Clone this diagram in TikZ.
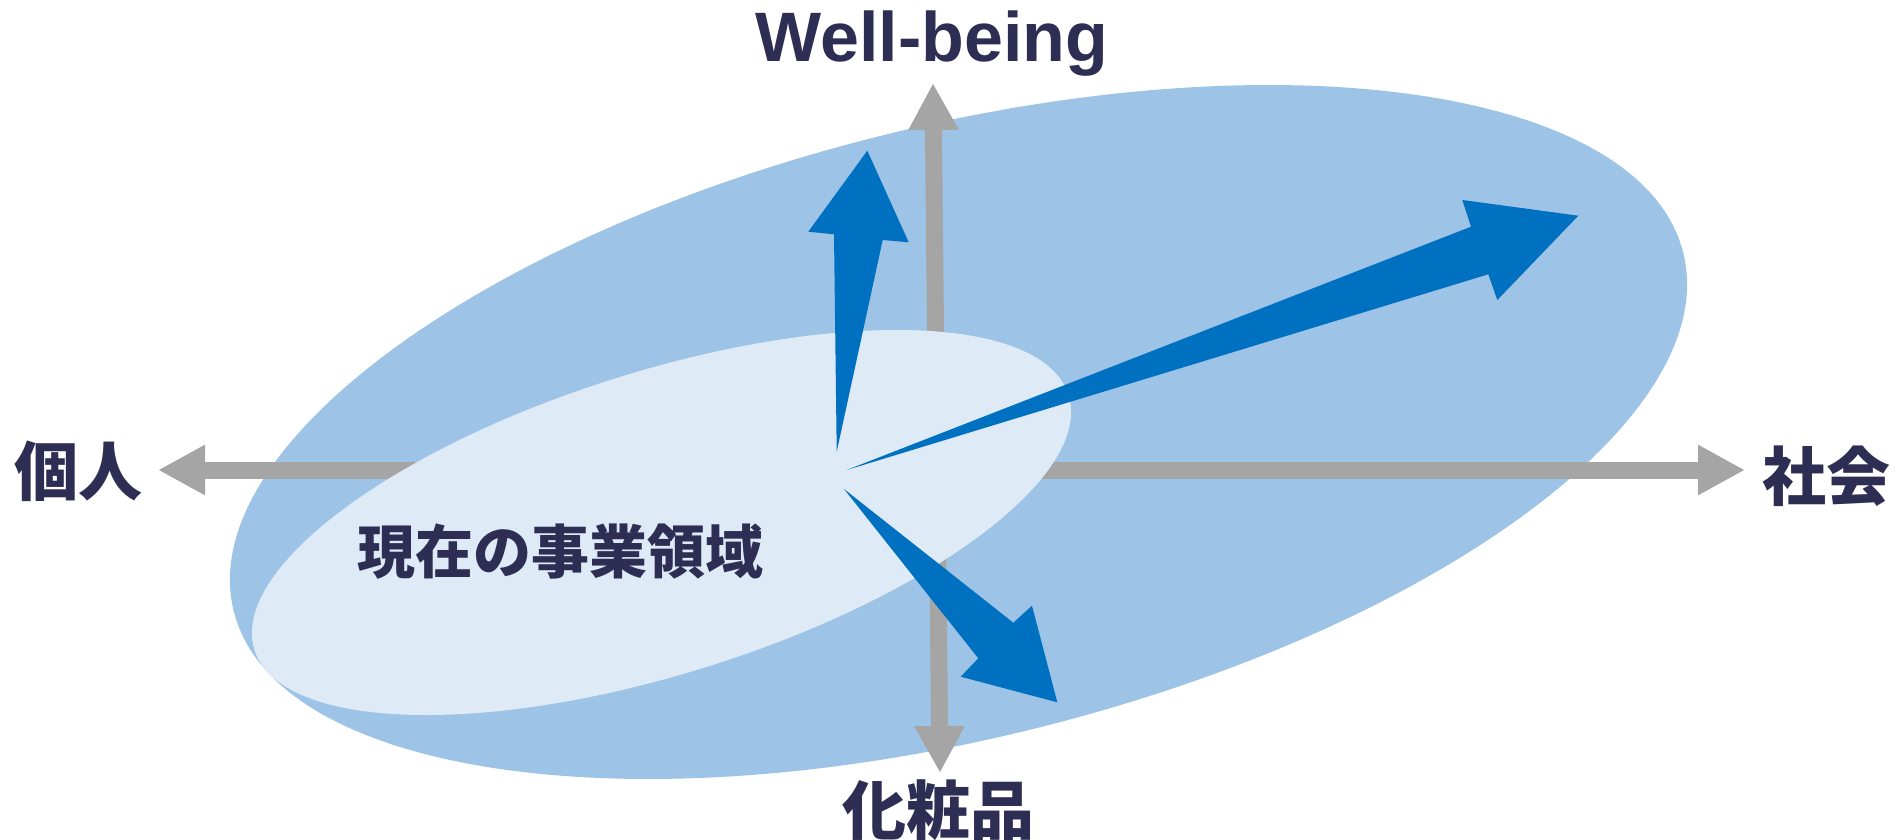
\documentclass[tikz,border=0pt]{standalone}
\usepackage{fontspec}
\setmainfont{Liberation Sans}
\newfontfamily\jpfont{Noto Sans CJK JP}
\usetikzlibrary{arrows.meta}

\definecolor{outerblue}{HTML}{9DC3E6}
\definecolor{innerblue}{HTML}{DEEBF7}
\definecolor{axisgray}{HTML}{A5A5A5}
\definecolor{growblue}{HTML}{0070C0}
\definecolor{labelnavy}{HTML}{2E2E54}

\tikzset{
  axis/.style={line width=17pt, draw=axisgray,
    {Triangle[width=47pt,length=47pt]}-{Triangle[width=47pt,length=47pt]}},
  growth/.style={fill=growblue},
  axislabel/.style={text=labelnavy, inner sep=0pt,
    font=\jpfont\bfseries\fontsize{64}{64}\selectfont},
}

\begin{document}
\begin{tikzpicture}[x=1pt,y=-1pt]
  \useasboundingbox (0,0) rectangle (1900,840);

  % market field
  \fill[outerblue] (958.5,432) ellipse[x radius=746.6pt, y radius=306.2pt, rotate=13.86];

  % axes
  \coordinate (west) at (158,470);
  \coordinate (east) at (1745,470);
  \coordinate (north) at (933,83);
  \coordinate (south) at (940,773);
  \draw[axis] (west) -- (east);
  \draw[axis] (north) -- (south);

  % current business
  \fill[innerblue] (661.5,522.5) ellipse[x radius=426.5pt, y radius=151.3pt, rotate=17.37];
  \node[axislabel, font=\jpfont\bfseries\fontsize{58}{58}\selectfont] (current) at (560,552) {現在の事業領域};

  % growth directions
  \fill[growth] (836.7,451.7) -- (834,234.3) -- (808.3,231.7) -- (867.3,150.7)
    -- (908.7,242.3) -- (882.7,240) -- cycle;
  \fill[growth] (846.7,470) -- (1471,226.7) -- (1462.3,200) -- (1578.3,215.7)
    -- (1497.3,300) -- (1488.3,274.3) -- cycle;
  \fill[growth] (844,489) -- (1013.3,622.7) -- (1032,605.7) -- (1057.3,702.3)
    -- (960.7,676.7) -- (978.3,658.3) -- cycle;

  % labels
  \node[text=labelnavy, inner sep=0pt, anchor=base,
    font=\bfseries\fontsize{70}{70}\selectfont] (wellbeing) at (932,62) {Well-being};
  \node[axislabel] (kojin) at (78,471) {個人};
  \node[axislabel] (shakai) at (1826,476) {社会};
  \node[axislabel] (keshohin) at (938,810) {化粧品};
\end{tikzpicture}
\end{document}
